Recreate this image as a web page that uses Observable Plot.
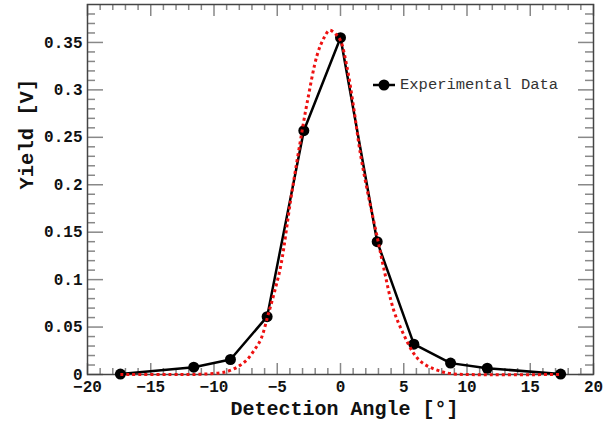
<!DOCTYPE html>
<html><head>
<meta charset="utf-8">
<script src="https://cdn.jsdelivr.net/npm/d3@7"></script>
<script src="https://cdn.jsdelivr.net/npm/@observablehq/plot@0.6"></script>
<style>
body{margin:0;background:#fff}
#wrap{position:relative;width:615px;height:423px}
#legend{position:absolute;left:373px;top:76px;display:flex;align-items:center;font:15.5px "Liberation Mono",monospace;color:#333}
#legend span{margin-left:5px}
</style>
</head><body>
<div id="wrap">
<div id="chart"></div>
<div id="legend"><svg width="22" height="14"><line x1="0" y1="7" x2="22" y2="7" stroke="black" stroke-width="2.5"/><circle cx="11" cy="7" r="5.5" fill="black"/></svg><span>Experimental Data</span></div>
</div>
<script>
// Experimental data
const angles = [-17.4, -11.6, -8.7, -5.8, -2.9, 0, 2.9, 5.8, 8.7, 11.6, 17.4];
const yields = [0.0005, 0.0077, 0.0158, 0.061, 0.257, 0.355, 0.140, 0.032, 0.012, 0.0066, 0.0005];

// Red dotted fitted curve
const fitAngles = [-17.4, -12, -10.5, -9.5, -9, -8.2, -7.4, -6.8, -6.3, -5.7, -5.2, -4.7, -3.95, -3.3, -2.63, -1.84, -1.3, -0.87, -0.4, 0, 0.5, 1.0, 1.58, 2.24, 2.9, 3.42, 4.2, 5.0, 5.8, 6.4, 7.1, 8.0, 8.7, 10, 17.4];
const fitYields = [0, 0, 0.0006, 0.0018, 0.003, 0.0075, 0.0155, 0.026, 0.037, 0.064, 0.088, 0.116, 0.183, 0.236, 0.287, 0.337, 0.355, 0.3628, 0.359, 0.352, 0.325, 0.285, 0.232, 0.186, 0.145, 0.112, 0.068, 0.042, 0.022, 0.013, 0.0075, 0.003, 0.001, 0, 0];

// Ticks
const xMajor = [-20, -15, -10, -5, 0, 5, 10, 15, 20];
const xMinor = d3.range(-20, 21, 1).filter(v => v % 5 !== 0);
const yMajor = [0, 0.05, 0.1, 0.15, 0.2, 0.25, 0.3, 0.35];
const yMinor = d3.range(0, 39).map(i => i / 100).filter(v => Math.round(v * 100) % 5 !== 0);

const xTitle = "Detection Angle [°]";
const yTitle = "Yield [V]";

const data = angles.map((a, i) => ({x: a, y: yields[i]}));
const fit = fitAngles.map((a, i) => ({x: a, y: fitYields[i]}));

const W = 615, H = 423;
const mL = 87, mR = 22, mT = 4, mB = 49;
const pw = W - mL - mR, ph = H - mT - mB;
const tickColor = "#888";

const chart = Plot.plot({
  width: W, height: H,
  marginLeft: mL, marginRight: mR, marginTop: mT, marginBottom: mB,
  style: {fontFamily: "Liberation Mono, monospace", fontSize: "16px", fontWeight: "bold", color: "#111", background: "white"},
  x: {domain: [-20, 20]},
  y: {domain: [0, 0.39]},
  marks: [
    // inward ticks, bottom
    Plot.tickX(xMajor, {x: d => d, insetTop: ph - 11, stroke: tickColor, strokeWidth: 1.5}),
    Plot.tickX(xMinor, {x: d => d, insetTop: ph - 6, stroke: tickColor, strokeWidth: 1.5}),
    // top
    Plot.tickX(xMajor, {x: d => d, insetBottom: ph - 12, stroke: tickColor, strokeWidth: 1.5}),
    Plot.tickX(xMinor, {x: d => d, insetBottom: ph - 6, stroke: tickColor, strokeWidth: 1.5}),
    // left
    Plot.tickY(yMajor, {y: d => d, insetRight: pw - 16, stroke: tickColor, strokeWidth: 1.5}),
    Plot.tickY(yMinor, {y: d => d, insetRight: pw - 8, stroke: tickColor, strokeWidth: 1.5}),
    // right
    Plot.tickY(yMajor, {y: d => d, insetLeft: pw - 15, stroke: tickColor, strokeWidth: 1.5}),
    Plot.tickY(yMinor, {y: d => d, insetLeft: pw - 8, stroke: tickColor, strokeWidth: 1.5}),
    Plot.frame({stroke: "#444", strokeWidth: 1.5}),
    Plot.axisX(xMajor, {anchor: "bottom", tickSize: 0, tickPadding: 6, label: null, fill: "#111"}),
    Plot.axisY(yMajor, {anchor: "left", tickSize: 0, tickPadding: 5, label: null, fill: "#111", tickFormat: d => String(+d.toFixed(2))}),
    Plot.text([yTitle], {text: d => d, frameAnchor: "left", dx: -61, rotate: -90, fontSize: 20.5, fontWeight: "bold", fill: "#111"}),
    Plot.text([xTitle], {text: d => d, frameAnchor: "bottom", dx: 4, dy: 40, fontSize: 20, fontWeight: "bold", fill: "#111"}),
    Plot.line(data, {x: "x", y: "y", stroke: "black", strokeWidth: 2.5}),
    Plot.dot(data, {x: "x", y: "y", r: 5.5, fill: "black"}),
    Plot.line(fit, {x: "x", y: "y", stroke: "#ee1111", strokeWidth: 3, strokeDasharray: "3,3", strokeLinecap: "butt", curve: "catmull-rom"})
  ]
});
document.getElementById("chart").appendChild(chart);
</script>
</body></html>
